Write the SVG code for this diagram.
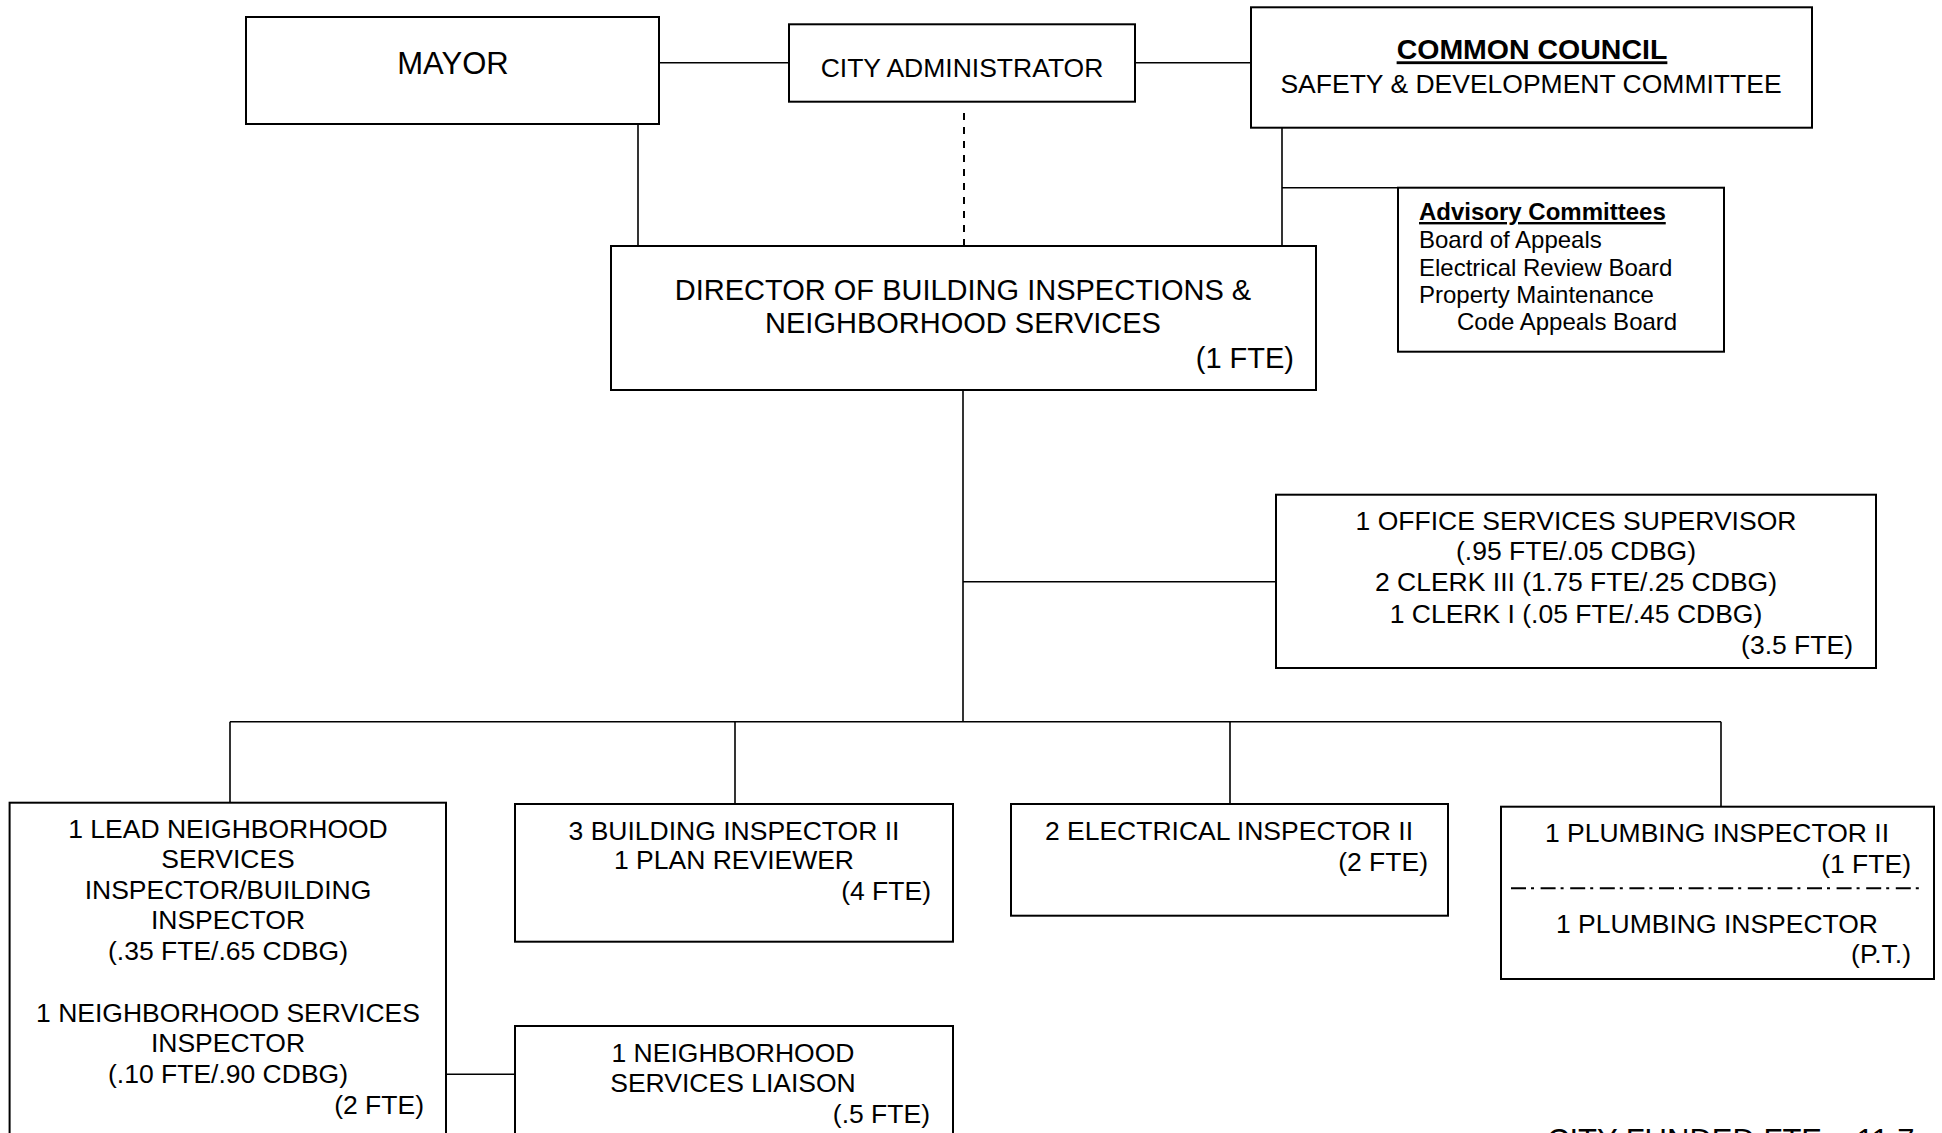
<svg xmlns="http://www.w3.org/2000/svg" width="1942" height="1133" viewBox="0 0 1942 1133">
<style>
.box{fill:#fff;stroke:#000;stroke-width:2}
.ln{fill:none;stroke:#000;stroke-width:1.6}
.dash{fill:none;stroke:#000;stroke-width:2;stroke-dasharray:7 7}
.dd{fill:none;stroke:#000;stroke-width:2;stroke-dasharray:15 5 3 6.6}
text{font-family:"Liberation Sans",Arial,Helvetica,sans-serif;fill:#000;font-size:26.5px}
.c{text-anchor:middle}
.r{text-anchor:end}
.big{font-size:31px}
.dir{font-size:29px}
.adv{font-size:24px}
.bu{font-weight:bold;text-decoration:underline}
</style>
<rect width="1942" height="1133" fill="#fff"/>
<g id="connectors">
<line class="ln" x1="659" y1="62.7" x2="789" y2="62.7"/>
<line class="ln" x1="1135" y1="62.7" x2="1251" y2="62.7"/>
<line class="ln" x1="638" y1="124" x2="638" y2="246"/>
<line class="dash" x1="964" y1="113" x2="964" y2="246"/>
<line class="ln" x1="1282" y1="127.7" x2="1282" y2="246"/>
<line class="ln" x1="1282" y1="187.7" x2="1398" y2="187.7"/>
<line class="ln" x1="963" y1="390" x2="963" y2="721.7"/>
<line class="ln" x1="963" y1="581.7" x2="1276" y2="581.7"/>
<line class="ln" x1="230" y1="721.7" x2="1721" y2="721.7"/>
<line class="ln" x1="230" y1="721.7" x2="230" y2="802.7"/>
<line class="ln" x1="735" y1="721.7" x2="735" y2="804"/>
<line class="ln" x1="1230" y1="721.7" x2="1230" y2="804"/>
<line class="ln" x1="1721" y1="721.7" x2="1721" y2="806.7"/>
<line class="ln" x1="446" y1="1074.3" x2="515" y2="1074.3"/>
</g>
<g id="mayor">
<rect class="box" x="246" y="17" width="413" height="107"/>
<text class="c big" x="453" y="74">MAYOR</text>
</g>
<g id="city-administrator">
<rect class="box" x="789" y="24.3" width="346" height="77.4"/>
<text class="c" x="962" y="76.7">CITY ADMINISTRATOR</text>
</g>
<g id="common-council">
<rect class="box" x="1251" y="7.3" width="561" height="120.4"/>
<text class="c bu" x="1532" y="59.3" style="font-size:28.5px">COMMON COUNCIL</text>
<text class="c" x="1531" y="92.7">SAFETY &amp; DEVELOPMENT COMMITTEE</text>
</g>
<g id="advisory-committees">
<rect class="box" x="1398" y="187.7" width="326" height="164"/>
<text class="adv bu" x="1419" y="220">Advisory Committees</text>
<text class="adv" x="1419" y="248">Board of Appeals</text>
<text class="adv" x="1419" y="276">Electrical Review Board</text>
<text class="adv" x="1419" y="303">Property Maintenance</text>
<text class="adv" x="1457" y="330">Code Appeals Board</text>
</g>
<g id="director">
<rect class="box" x="611" y="246" width="705" height="144"/>
<text class="c dir" x="963" y="300">DIRECTOR OF BUILDING INSPECTIONS &amp;</text>
<text class="c dir" x="963" y="333">NEIGHBORHOOD SERVICES</text>
<text class="r dir" x="1294" y="368">(1 FTE)</text>
</g>
<g id="office-services">
<rect class="box" x="1276" y="494.7" width="600" height="173.3"/>
<text class="c" x="1576" y="530">1 OFFICE SERVICES SUPERVISOR</text>
<text class="c" x="1576" y="560">(.95 FTE/.05 CDBG)</text>
<text class="c" x="1576" y="591">2 CLERK III (1.75 FTE/.25 CDBG)</text>
<text class="c" x="1576" y="622.7">1 CLERK I (.05 FTE/.45 CDBG)</text>
<text class="r" x="1853" y="654.3">(3.5 FTE)</text>
</g>
<g id="neighborhood-inspectors">
<rect class="box" x="9.6" y="802.7" width="436.4" height="340"/>
<text class="c" x="228" y="837.7">1 LEAD NEIGHBORHOOD</text>
<text class="c" x="228" y="868.3">SERVICES</text>
<text class="c" x="228" y="899.3">INSPECTOR/BUILDING</text>
<text class="c" x="228" y="929.3">INSPECTOR</text>
<text class="c" x="228" y="960">(.35 FTE/.65 CDBG)</text>
<text class="c" x="228" y="1021.7">1 NEIGHBORHOOD SERVICES</text>
<text class="c" x="228" y="1051.7">INSPECTOR</text>
<text class="c" x="228" y="1082.7">(.10 FTE/.90 CDBG)</text>
<text class="r" x="424" y="1114">(2 FTE)</text>
</g>
<g id="building-inspectors">
<rect class="box" x="515" y="804" width="438" height="137.7"/>
<text class="c" x="734" y="840">3 BUILDING INSPECTOR II</text>
<text class="c" x="734" y="869.3">1 PLAN REVIEWER</text>
<text class="r" x="931" y="900">(4 FTE)</text>
</g>
<g id="liaison">
<rect class="box" x="515" y="1026" width="438" height="120"/>
<text class="c" x="733" y="1061.7">1 NEIGHBORHOOD</text>
<text class="c" x="733" y="1091.7">SERVICES LIAISON</text>
<text class="r" x="930" y="1122.7">(.5 FTE)</text>
</g>
<g id="electrical-inspectors">
<rect class="box" x="1011" y="804" width="437" height="111.7"/>
<text class="c" x="1229" y="840">2 ELECTRICAL INSPECTOR II</text>
<text class="r" x="1428" y="870.7">(2 FTE)</text>
</g>
<g id="plumbing-inspectors">
<rect class="box" x="1501" y="806.7" width="433" height="172.3"/>
<text class="c" x="1717" y="841.7">1 PLUMBING INSPECTOR II</text>
<text class="r" x="1911" y="873.3">(1 FTE)</text>
<line class="dd" x1="1511" y1="888.3" x2="1925" y2="888.3"/>
<text class="c" x="1717" y="933.3">1 PLUMBING INSPECTOR</text>
<text class="r" x="1911" y="963.3">(P.T.)</text>
</g>
<g id="city-funded-total">
<text class="big" x="1547" y="1151">CITY FUNDED FTE – 11.7</text>
</g>
</svg>
